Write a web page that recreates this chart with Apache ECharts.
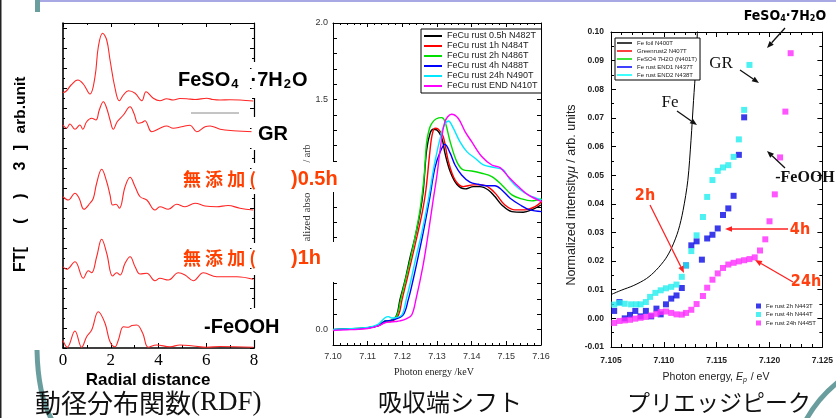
<!DOCTYPE html>
<html><head><meta charset="utf-8">
<script src="https://cdn.jsdelivr.net/npm/echarts@6/dist/echarts.min.js"></script>
<style>html,body{margin:0;padding:0;background:#fff}#c{width:836px;height:418px}</style>
</head><body><div id="c"></div>
<script>
// ---------- Panel 1: RDF (stacked, arb. offset units) ----------
const rdfFeSO4X = [0,0.15,0.34,0.62,0.85,1.13,1.34,1.48,1.66,1.83,1.97,2.18,2.36,2.53,2.74,3.02,3.30,3.48,3.78,4.06,4.34,4.62,4.90,5.18,5.53,6.02,6.28,6.58,6.99,7.41,7.97];
const rdfFeSO4Y = [10.21,10.29,10.52,10.72,10.56,10.16,10.85,12.05,12.59,12.32,11.52,10.39,9.89,10.12,10.29,10.19,9.89,10.25,9.99,9.89,9.97,9.92,9.98,9.97,9.94,9.99,9.94,9.92,9.93,9.92,9.88];
const rdfGRX = [0,0.15,0.29,0.50,0.71,0.83,0.99,1.20,1.38,1.52,1.69,1.83,1.97,2.11,2.27,2.53,2.81,2.97,3.15,3.31,3.43,3.72,4.06,4.34,4.62,4.97,5.32,5.60,5.95,6.16,6.58,7.13,7.97];
const rdfGRY = [8.92,8.79,8.96,8.75,8.92,8.75,9.05,9.19,9.12,9.52,9.85,9.59,9.12,8.75,9.05,9.32,9.65,9.39,8.99,9.02,9.09,8.65,8.79,8.88,8.79,8.85,8.91,8.65,8.85,8.88,8.75,8.69,8.65];
const rdf05hX = [0,0.22,0.50,0.67,0.88,1.13,1.27,1.41,1.62,1.83,1.97,2.08,2.22,2.36,2.60,2.81,3.02,3.23,3.51,3.85,4.06,4.41,4.76,5.11,5.53,5.95,6.44,6.91,7.41,7.97];
const rdf05hY = [6.05,5.92,6.19,6.00,5.55,5.79,5.99,6.59,7.15,6.65,6.12,5.72,5.75,5.59,6.45,6.83,6.45,6.05,5.92,5.52,5.65,5.55,5.75,5.65,5.79,5.68,5.65,5.70,5.59,5.52];
const rdf1hX = [0,0.15,0.50,0.85,1.06,1.20,1.41,1.62,1.83,2.08,2.25,2.39,2.60,2.81,3.02,3.23,3.51,3.85,4.06,4.41,4.83,5.11,5.46,5.88,6.44,7.28,7.97];
const rdf1hY = [3.25,3.15,3.45,2.79,3.09,3.01,3.65,4.35,3.79,2.88,3.01,2.92,3.39,3.65,3.25,2.96,2.99,2.69,2.79,2.72,3.01,2.92,2.69,3.01,2.85,2.85,2.75];
const rdfFeOOHX = [0,0.18,0.50,0.78,0.99,1.20,1.48,1.76,1.97,2.18,2.32,2.53,2.74,2.89,3.09,3.34,3.57,3.92,4.48,4.90,5.46,6.02,6.58,7.97];
const rdfFeOOHY = [0.30,0.03,0.68,0.03,0.45,0.72,1.45,0.99,0.25,0.05,0.32,0.85,0.83,0.90,0.92,0.59,0.03,0.12,0.05,0.12,0.08,0.03,0.06,0.03];

// ---------- Panel 2: XANES absorption edge ----------
const xanesNames = ['FeCu rust 0.5h N482T','FeCu rust 1h N484T','FeCu rust 2h N486T','FeCu rust 4h N488T','FeCu rust 24h N490T','FeCu rust END N410T'];
const xanesColors = ['#000000','#ff0000','#00dd00','#0000ff','#00e8ff','#ff00ff'];
const e05h = [7.100,7.105,7.110,7.113,7.115,7.117,7.1184,7.1193,7.1208,7.1222,7.1237,7.1251,7.1260,7.1270,7.1280,7.1289,7.1299,7.1314,7.1323,7.1338,7.1357,7.1381,7.1405,7.1424,7.1448,7.1467,7.1487,7.1516,7.1549,7.1573,7.1600];
const v05h = [0.000,0.005,0.012,0.028,0.055,0.062,0.096,0.194,0.324,0.468,0.605,0.760,0.900,1.170,1.280,1.307,1.303,1.249,1.151,1.031,0.948,0.918,0.933,0.933,0.911,0.868,0.813,0.770,0.766,0.781,0.813];
const e1h = [7.100,7.105,7.110,7.113,7.115,7.117,7.1189,7.1199,7.1213,7.1228,7.1242,7.1257,7.1268,7.1280,7.1286,7.1294,7.1304,7.1318,7.1333,7.1352,7.1376,7.1405,7.1429,7.1453,7.1472,7.1496,7.1525,7.1554,7.1583,7.1602];
const v1h = [0.000,0.005,0.011,0.025,0.048,0.055,0.096,0.194,0.324,0.468,0.605,0.760,0.911,1.173,1.270,1.314,1.307,1.259,1.096,0.977,0.933,0.944,0.944,0.922,0.879,0.813,0.781,0.781,0.802,0.835];
const e2h = [7.100,7.105,7.110,7.113,7.115,7.117,7.1185,7.1195,7.1209,7.1224,7.1238,7.1251,7.1262,7.1270,7.1278,7.1285,7.1297,7.1314,7.1323,7.1338,7.1357,7.1376,7.1400,7.1429,7.1458,7.1487,7.1516,7.1544,7.1573,7.1602];
const v2h = [0.000,0.006,0.013,0.028,0.055,0.063,0.096,0.194,0.324,0.468,0.620,0.780,0.977,1.220,1.310,1.346,1.374,1.383,1.357,1.226,1.096,1.042,1.035,1.020,0.998,0.944,0.879,0.853,0.840,0.853];
const e4h = [7.100,7.105,7.110,7.113,7.115,7.117,7.1202,7.1217,7.1231,7.1245,7.1260,7.1278,7.1294,7.1309,7.1323,7.1338,7.1352,7.1371,7.1395,7.1419,7.1443,7.1467,7.1487,7.1511,7.1540,7.1568,7.1602];
const v4h = [0.000,0.005,0.012,0.025,0.055,0.062,0.096,0.194,0.324,0.468,0.631,0.846,1.055,1.159,1.209,1.151,1.074,1.009,0.962,0.948,0.939,0.939,0.911,0.857,0.813,0.781,0.770];
const e24h = [7.100,7.105,7.110,7.113,7.115,7.116,7.117,7.118,7.1199,7.1211,7.1225,7.1239,7.1256,7.1275,7.1294,7.1314,7.1323,7.1333,7.1347,7.1366,7.1386,7.1410,7.1434,7.1467,7.1491,7.1511,7.1535,7.1563,7.1602];
const v24h = [0.002,0.007,0.015,0.035,0.078,0.085,0.076,0.078,0.096,0.194,0.324,0.468,0.631,0.846,1.096,1.292,1.342,1.361,1.314,1.226,1.161,1.118,1.074,1.057,1.042,0.977,0.922,0.879,0.846];
const eEND = [7.100,7.105,7.110,7.113,7.115,7.1165,7.118,7.1193,7.1211,7.1227,7.1239,7.1259,7.1275,7.1289,7.1300,7.1309,7.1323,7.1342,7.1361,7.1381,7.1400,7.1429,7.1458,7.1482,7.1506,7.1535,7.1563,7.1602];
const vEND = [-0.005,0.000,0.008,0.025,0.045,0.050,0.053,0.057,0.070,0.096,0.194,0.409,0.631,0.846,1.009,1.172,1.357,1.405,1.379,1.292,1.226,1.129,1.074,1.057,0.998,0.933,0.879,0.835];

// ---------- Panel 3: pre-edge peak ----------
const refNames = ['Fe foil N400T','Greenrust2 N407T','FeSO4 7H2O (N401T)','Fe rust END1 N437T','Fe rust END2 N438T'];
const refColors = ['#000000','#ff0000','#00dd00','#0000ff','#00ffff'];
const feFoilX = [7.1050,7.10596,7.10716,7.10836,7.10926,7.11016,7.11077,7.11137,7.11182,7.11227,7.11257,7.11281,7.11302,7.11317,7.1133];
const feFoilY = [0.0083,0.0098,0.0115,0.0139,0.0168,0.0208,0.0249,0.0307,0.0377,0.0482,0.0622,0.0761,0.0877,0.0994,0.1060];
const rustNames = ['Fe rust 2h N443T','Fe rust 4h N444T','Fe rust 24h N445T'];
const rustColors = ['#0a0ae6','#22eeee','#ff2aff'];
const rust2hX = [7.1053,7.1058,7.1063,7.1068,7.1073,7.1078,7.1083,7.1088,7.1093,7.1097,7.1102,7.1107,7.1112,7.1117,7.1121,7.1126,7.1131,7.1136,7.1141,7.1146,7.1151,7.1156,7.1161,7.1166,7.1171,7.1176,7.1181];
const rust2hY = [0.0026,0.0057,0.0000,0.0012,0.0026,0.0007,0.0026,0.0007,0.0034,0.0014,0.0049,0.0069,0.0080,0.0106,0.0185,0.0255,0.0269,0.0205,0.0279,0.0292,0.0314,0.0361,0.0384,0.0428,0.0571,0.0702,0.1002];
const rust4hX = [7.1053,7.1058,7.1063,7.1069,7.1074,7.1078,7.1083,7.1087,7.1092,7.1097,7.1102,7.1107,7.1112,7.1117,7.1121,7.1126,7.1131,7.1137,7.1141,7.1146,7.1151,7.1156,7.1161,7.1166,7.1171,7.1176,7.1181];
const rust4hY = [0.0048,0.0054,0.0051,0.0049,0.0049,0.0049,0.0057,0.0075,0.0089,0.0098,0.0105,0.0110,0.0118,0.0145,0.0185,0.0235,0.0290,0.0354,0.0424,0.0483,0.0515,0.0527,0.0535,0.0564,0.0625,0.0728,0.0885];
const rust24hX = [7.1053,7.1058,7.1063,7.1068,7.1073,7.1078,7.1083,7.1088,7.1093,7.1097,7.1102,7.1107,7.1112,7.1117,7.1121,7.1126,7.1131,7.1137,7.1141,7.1146,7.1151,7.1156,7.1161,7.1166,7.1171,7.1176,7.1181,7.1186,7.1191,7.1196,7.1200,7.1205,7.1210,7.1215,7.1220];
const rust24hY = [-0.0016,-0.0009,-0.0007,-0.0005,-0.0001,0.0002,0.0005,0.0010,0.0016,0.0022,0.0024,0.0019,0.0014,0.0013,0.0019,0.0030,0.0050,0.0078,0.0107,0.0135,0.0157,0.0176,0.0188,0.0194,0.0199,0.0203,0.0207,0.0213,0.0237,0.0276,0.0339,0.0433,0.0562,0.0722,0.0926];

// ---------- helpers ----------
const sans = '"Liberation Sans", Arial, sans-serif';
const serif = '"Liberation Serif", "Times New Roman", serif';
const narrow = '"Liberation Sans Narrow", "DejaVu Sans Condensed", "Liberation Sans", sans-serif';
const cjk = '"Noto Sans CJK JP", sans-serif';
const pairs = (xs, ys) => xs.map((x, i) => [x, ys[i]]);

function axis(gridIndex, position, min, max, interval, o) {
  o = o || {};
  return {
    type: 'value', gridIndex, position, min, max, interval,
    axisLine: { show: true, onZero: false, lineStyle: { color: '#000', width: o.lw || 1 } },
    axisTick: { show: true, inside: true, length: o.tl || 4, lineStyle: { color: '#000', width: 1 } },
    minorTick: { show: !!o.minor, splitNumber: o.minor || 2, length: o.ml || 2, lineStyle: { color: '#000', width: 1 } },
    splitLine: { show: false },
    axisLabel: o.label ? Object.assign({ show: true, color: '#000' }, o.label) : { show: false }
  };
}

const xAxes = [
  axis(0, 'bottom', 0, 8, 2, { lw: 1.6, tl: 5, minor: 2, ml: 3, label: { fontFamily: serif, fontSize: 17, margin: 4 } }),
  axis(0, 'top', 0, 8, 2, { lw: 1.2, tl: 4, minor: 2, ml: 2 }),
  axis(1, 'bottom', 7.10, 7.16, 0.01, { tl: 4, minor: 5, ml: 2, label: { fontFamily: sans, fontSize: 9, color: '#333', margin: 7, formatter: v => v.toFixed(2) } }),
  axis(1, 'top', 7.10, 7.16, 0.01, { tl: 4, minor: 5, ml: 2 }),
  axis(2, 'bottom', 7.105, 7.125, 0.005, { tl: 5, minor: 5, ml: 3, label: { fontFamily: sans, fontSize: 8.5, fontWeight: 'bold', color: '#222', margin: 9, formatter: v => v.toFixed(3) } }),
  axis(2, 'top', 7.105, 7.125, 0.005, { tl: 5, minor: 5, ml: 3 })
];
const yAxes = [
  axis(0, 'left', 0, 13, 0.8, { lw: 1.6, tl: 4, minor: 2, ml: 2 }),
  axis(0, 'right', 0, 13, 0.8, { lw: 1.2, tl: 4, minor: 2, ml: 2 }),
  axis(1, 'left', -0.1, 2.0, 0.1, { tl: 4, label: { fontFamily: sans, fontSize: 9, color: '#333', margin: 5,
      formatter: v => { const r = Math.round(v * 2); return (Math.abs(v * 2 - r) < 1e-6 && v > -0.01) ? v.toFixed(1) : ''; } } }),
  axis(1, 'right', -0.1, 2.0, 0.1, { tl: 4 }),
  axis(2, 'left', -0.01, 0.10, 0.01, { tl: 5, minor: 2, ml: 3, label: { fontFamily: sans, fontSize: 8.5, fontWeight: 'bold', color: '#222', margin: 7, formatter: v => v.toFixed(2) } }),
  axis(2, 'right', -0.01, 0.10, 0.01, { tl: 5, minor: 2, ml: 3 })
];

const series = [];
[[rdfFeSO4X, rdfFeSO4Y, 'FeSO4·7H2O'], [rdfGRX, rdfGRY, 'GR'], [rdf05hX, rdf05hY, '0.5h'], [rdf1hX, rdf1hY, '1h'], [rdfFeOOHX, rdfFeOOHY, 'FeOOH']]
  .forEach(([xs, ys, n]) => series.push({ name: n, type: 'line', xAxisIndex: 0, yAxisIndex: 0, data: pairs(xs, ys),
    smooth: 0.4, showSymbol: false, lineStyle: { color: '#ff2626', width: 1.1 }, itemStyle: { color: '#ff2626' } }));

const xanes = [[e05h, v05h], [e1h, v1h], [e2h, v2h], [e4h, v4h], [e24h, v24h], [eEND, vEND]];
xanes.forEach(([xs, ys], i) => series.push({ name: xanesNames[i], type: 'line', xAxisIndex: 2, yAxisIndex: 2,
  data: pairs(xs, ys), smooth: 0.35, showSymbol: false, lineStyle: { color: xanesColors[i], width: 1.4 }, itemStyle: { color: xanesColors[i] } }));
refNames.forEach((n, i) => series.push({ name: n, type: 'line', xAxisIndex: 4, yAxisIndex: 4,
  data: i === 0 ? pairs(feFoilX, feFoilY) : [], smooth: 0.3, showSymbol: false, clip: true,
  lineStyle: { color: refColors[i], width: 1 }, itemStyle: { color: refColors[i] } }));
[[rust2hX, rust2hY], [rust4hX, rust4hY], [rust24hX, rust24hY]].forEach(([xs, ys], i) => series.push({
  name: rustNames[i], type: 'scatter', xAxisIndex: 4, yAxisIndex: 4, data: pairs(xs, ys), symbol: 'rect', symbolSize: 6,
  clip: true, itemStyle: { color: rustColors[i] } }));

// ---------- graphic annotations ----------
const G = [];
function T(x, y, text, font, fill, o) {
  o = o || {};
  G.push({ type: 'text', x, y, z: 120, rotation: o.rot || 0,
    style: Object.assign({ text, font, fill, textAlign: o.align || 'center', align: o.align || 'center',
      textVerticalAlign: 'middle', verticalAlign: 'middle' }, o.style || {}) });
}
function R(x, y, w, h, fill, z) { G.push({ type: 'rect', z: z || 110, shape: { x, y, width: w, height: h }, style: { fill } }); }
function A(x1, y1, x2, y2, color) {
  const a = Math.atan2(y2 - y1, x2 - x1), L = 7, W = 2.8;
  const bx = x2 - L * Math.cos(a), by = y2 - L * Math.sin(a);
  G.push({ type: 'line', z: 120, shape: { x1, y1, x2: bx, y2: by }, style: { stroke: color, lineWidth: 1.3 } });
  G.push({ type: 'polygon', z: 120, shape: { points: [[x2, y2], [bx + W * Math.sin(a), by - W * Math.cos(a)], [bx - W * Math.sin(a), by + W * Math.cos(a)]] }, style: { fill: color } });
}

// slide decoration
R(40, 0, 796, 2, '#a8a8e4', 5);
R(35, 0, 5, 12, '#6a9e9e', 5);
R(0, 0, 1.5, 418, '#222', 5);
G.push({ type: 'bezierCurve', z: 5, shape: { x1: 37, y1: 350, cpx1: 38, cpy1: 396, x2: 52, y2: 420 }, style: { stroke: '#6a9e9e', lineWidth: 5, fill: null } });
G.push({ type: 'bezierCurve', z: 5, shape: { x1: 806, y1: 420, cpx1: 818, cpy1: 398, x2: 838, y2: 382 }, style: { stroke: '#6a9e9e', lineWidth: 5, fill: null } });

// panel 1 white gaps over frames/axes
R(251.5, 62, 7, 36, '#fff');
R(251.5, 117, 7, 33, '#fff');
R(251.5, 163, 7, 31, '#fff');
R(288, 162, 56, 30, '#fff');
R(251.5, 243, 7, 32, '#fff');
R(288, 242, 56, 40, '#fff');
R(251.5, 308, 7, 32, '#fff');
G.push({ type: 'line', z: 120, shape: { x1: 191, y1: 113, x2: 239, y2: 113 }, style: { stroke: '#8a8a8a', lineWidth: 1 } });

const b20 = 'bold 20px ' + sans;
T(178, 80, '{n|FeSO}{s|4}{n|  ·7H}{s|2}{n|O}', b20, '#000', { align: 'left', style: { rich: {
  n: { font: b20, fill: '#000', color: '#000' },
  s: { font: 'bold 13px ' + sans, fill: '#000', color: '#000', padding: [9, 1, 0, 1] } } } });
T(258, 134, 'GR', b20, '#000', { align: 'left' });
T(183, 179, '無 添 加 (', 'bold 18px ' + cjk, '#ff4000', { align: 'left' });
T(291, 179, ')0.5h', 'bold 20px ' + sans, '#ff4000', { align: 'left' });
T(183, 258, '無 添 加 (', 'bold 18px ' + cjk, '#ff4000', { align: 'left' });
T(291, 258, ')1h', 'bold 20px ' + sans, '#ff4000', { align: 'left' });
T(204, 327, '-FeOOH', b20, '#000', { align: 'left' });

// panel 1 axis texts
const rot = Math.PI / 2;
T(21, 259.5, 'FT[', 'bold 16px ' + sans, '#000', { rot });
T(21, 221, '(', 'bold 16px ' + sans, '#000', { rot });
T(21, 196, ')', 'bold 16px ' + sans, '#000', { rot });
T(21, 166, '3', 'bold 16px ' + sans, '#000', { rot });
T(21, 147.5, ']', 'bold 16px ' + sans, '#000', { rot });
T(21, 105, 'arb.unit', 'bold 15.5px ' + sans, '#000', { rot });
T(148, 380, 'Radial distance', 'bold 17px ' + sans, '#000');

// panel 2 axis texts
T(307, 217, 'alized abso', '11px ' + serif, '#333', { rot });
T(307, 153.5, '/ arb', '10px ' + serif, '#333', { rot });
T(434, 372, 'Photon energy /keV', '10px ' + serif, '#222');

// panel 3 axis texts
T(572, 195, '{n|Normalized intensity}{i|μ}{n| / arb. units}', '12.5px ' + sans, '#222', { rot, style: { rich: {
  n: { font: '12.5px ' + sans, fill: '#222', color: '#222' }, i: { font: 'italic 12.5px ' + sans, fill: '#222', color: '#222' } } } });
T(716, 377, '{n|Photon energy, }{i|E}{s|p}{n| / eV}', '10.5px ' + sans, '#222', { style: { rich: {
  n: { font: '10.5px ' + sans, fill: '#222', color: '#222' }, i: { font: 'italic 10.5px ' + sans, fill: '#222', color: '#222' },
  s: { font: 'italic 7px ' + sans, fill: '#222', color: '#222', padding: [6, 1, 0, 0] } } } });

// panel 3 annotations
const nb = 'bold 16px ' + narrow;
const nbt = 'bold 14px ' + narrow;
T(785, 16, '{n|FeSO}{s|4}{n|·7H}{s|2}{n|O}', nbt, '#000', { style: { rich: {
  n: { font: nbt, fill: '#000', color: '#000' }, s: { font: 'bold 9px ' + narrow, fill: '#000', color: '#000', padding: [6, 0, 0, 0] } } } });
A(785, 28, 767, 48, '#111');
T(721, 64, 'GR', '17px ' + serif, '#111');
A(740, 70, 759, 83, '#111');
T(670, 103, 'Fe', '17px ' + serif, '#111');
A(677, 111, 697, 125, '#111');
T(805, 178, '-FeOOH', 'bold 16px ' + serif, '#111');
A(785, 168, 767, 151, '#111');
T(645, 196, '2h', nb, '#ff4010');
A(650, 205, 684, 273, '#ff2020');
T(800, 230, '4h', nb, '#ff4010');
A(788, 229, 725, 229, '#ff2020');
T(806, 282, '24h', nb, '#ff4010');
A(793, 282, 755, 260, '#ff2020');

// slide titles
T(35, 403, '{k|動径分布関数}{r|(RDF)}', '26px ' + cjk, '#111', { align: 'left', style: { rich: {
  k: { font: '26px ' + cjk, fill: '#111', color: '#111' }, r: { font: '27px ' + serif, fill: '#111', color: '#111' } } } });
T(450, 402, '吸収端シフト', '24px ' + cjk, '#111');
T(719, 402, 'プリエッジピーク', '23px ' + cjk, '#111');

const option = {
  backgroundColor: '#fff',
  animation: false,
  grid: [
    { left: 63, top: 23, width: 191, height: 325 },
    { left: 333, top: 23, width: 208, height: 322 },
    { left: 611, top: 32, width: 221, height: 315 }
  ],
  xAxis: xAxes,
  yAxis: yAxes,
  legend: [
    { data: xanesNames, left: 421, top: 29, orient: 'vertical', icon: 'rect', itemWidth: 18, itemHeight: 2, itemGap: 0,
      padding: [2, 4, 2, 3], borderColor: '#000', borderWidth: 1, backgroundColor: '#fff', selectedMode: false,
      textStyle: { fontFamily: sans, fontSize: 9, lineHeight: 10, color: '#222' } },
    { data: refNames, left: 615, top: 38, orient: 'vertical', icon: 'rect', itemWidth: 15, itemHeight: 1.5, itemGap: 0,
      padding: [1, 3, 1, 2], borderColor: '#000', borderWidth: 1, backgroundColor: '#fff', selectedMode: false,
      textStyle: { fontFamily: sans, fontSize: 6, lineHeight: 8, color: '#222' } },
    { data: rustNames, left: 756, top: 303, orient: 'vertical', icon: 'rect', itemWidth: 5, itemHeight: 5, itemGap: 2.5,
      padding: 0, selectedMode: false, textStyle: { fontFamily: sans, fontSize: 6, lineHeight: 5, color: '#222' } }
  ],
  series,
  graphic: { elements: G }
};
const chart = echarts.init(document.getElementById('c'), null, { renderer: 'canvas' });
chart.setOption(option);
</script></body></html>
